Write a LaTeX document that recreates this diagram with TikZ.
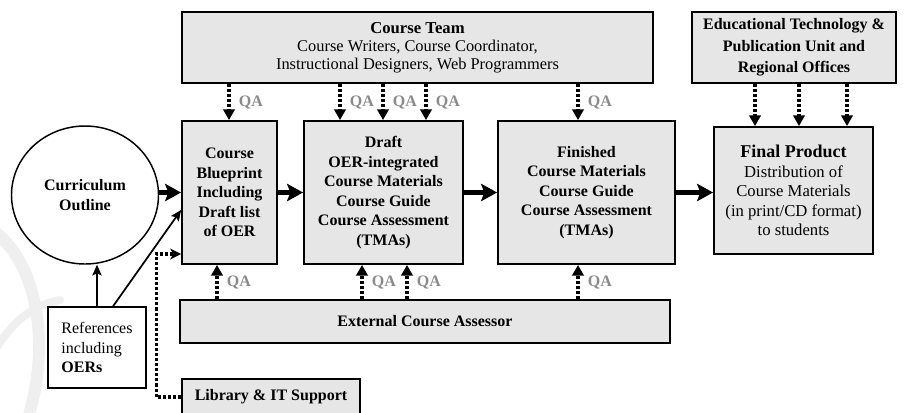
\documentclass[tikz,border=0pt]{standalone}
\usepackage{fontspec}
\setmainfont{Liberation Serif}
\usetikzlibrary{arrows.meta,calc,shapes.geometric}
\definecolor{boxgray}{HTML}{E6E6E6}
\definecolor{qagray}{HTML}{8A8A8A}
\definecolor{wmgray}{HTML}{EFEFEF}
\tikzset{
  box/.style={draw, fill=boxgray, line width=1.4pt, align=center, inner sep=2pt,
    font=\fontsize{12}{14.7}\selectfont\bfseries},
  qa/.style={line width=2.3pt, dash pattern=on 2.3pt off 1.5pt, -{Triangle[width=8.5pt,length=8pt]}},
  qalab/.style={right, xshift=3pt, text=qagray, font=\fontsize{12}{14}\selectfont\bfseries},
  bigarrow/.style={line width=3.8pt, -{Stealth[length=12pt,width=13pt,inset=2.5pt]}},
  thinarrow/.style={line width=1.3pt, -{Stealth[length=8pt,width=7pt,inset=1.5pt]}},
  libline/.style={line width=2.3pt, dash pattern=on 2.3pt off 1.5pt, -{Stealth[length=8pt,width=8pt,inset=2pt]}},
  watermark/.style={draw=wmgray, line width=9pt, line cap=round},
}
\begin{document}
\begin{tikzpicture}[x=0.75pt, y=-0.75pt]
\useasboundingbox (0,0) rectangle (912,412);
% faint watermark
\draw[watermark] (-5,232) .. controls (35,262) and (52,340) .. (28,418);
\draw[watermark, line width=6pt] (-5,350) .. controls (15,318) and (35,305) .. (60,300);
% boxes
\node[box, minimum width=471*0.75pt, minimum height=71*0.75pt, font=\fontsize{12.3}{13.4}\selectfont] (team) at (417.5,47.5)
  {\textbf{\fontsize{12.5}{13.4}\selectfont Course Team}\\ Course Writers, Course Coordinator,\\ Instructional Designers, Web Programmers};
\node[box, minimum width=204*0.75pt, minimum height=71*0.75pt, font=\fontsize{12}{16}\selectfont\bfseries] (edtech) at (794,47.5)
  {Educational Technology \&\\ Publication Unit and\\ Regional Offices};
\node[box, minimum width=95*0.75pt, minimum height=143*0.75pt] (blue) at (229.5,192.5)
  {Course\\ Blueprint\\ Including\\ Draft list\\ of OER};
\node[box, minimum width=159*0.75pt, minimum height=143*0.75pt] (draft) at (383.5,192.5)
  {Draft\\ OER-integrated\\ Course Materials\\ Course Guide\\ Course Assessment\\ (TMAs)};
\node[box, minimum width=177*0.75pt, minimum height=143*0.75pt] (fin) at (586.5,192.5)
  {Finished\\ Course Materials\\ Course Guide\\ Course Assessment\\ (TMAs)};
\node[box, minimum width=159*0.75pt, minimum height=127*0.75pt, font=\fontsize{12.5}{14.7}\selectfont] (final) at (793.5,190.5)
  {\textbf{\fontsize{13.5}{14.7}\selectfont Final Product}\\ Distribution of\\ Course Materials\\ (in print/CD format)\\ to students};
\node[box, minimum width=490*0.75pt, minimum height=43*0.75pt] (ext) at (425,321.5)
  {External Course Assessor};
\node[box, minimum width=178*0.75pt, minimum height=36*0.75pt] (lib) at (271,397)
  {Library \& IT Support};
\node[ellipse, draw, line width=1.1pt, fill=white, minimum width=147*0.75pt, minimum height=138*0.75pt,
  align=center, font=\fontsize{12}{14.7}\selectfont\bfseries] (circ) at (85,195)
  {Curriculum\\ Outline};
\node[draw, fill=white, line width=1pt, minimum width=98*0.75pt, minimum height=81*0.75pt,
  align=left, font=\fontsize{12}{14.7}\selectfont] (ref) at (97,347.5)
  {References\\ including\\ \textbf{OERs}};
% QA from course team
\foreach \x in {229,340,383,426}{
  \draw[qa] (\x,0 |- team.south) -- (\x,0 |- blue.north) node[qalab, midway]{QA};
}
\draw[qa] (578,0 |- team.south) -- (578,0 |- fin.north) node[qalab, midway]{QA};
% ed tech to final
\foreach \x in {755,799,847}{
  \draw[qa] (\x,0 |- edtech.south) -- (\x,0 |- final.north);
}
% QA from external
\foreach \x in {217,362,407,578}{
  \draw[qa] (\x,0 |- ext.north) -- (\x,0 |- blue.south) node[qalab, midway]{QA};
}
% main flow
\draw[bigarrow] (blue.west -| circ.east) -- (blue.west);
\draw[bigarrow] (blue.east) -- (draft.west);
\draw[bigarrow] (draft.east) -- (fin.west);
\draw[bigarrow] (fin.east) -- (fin.east -| final.west);
% references
\draw[thinarrow] (ref.north) -- (ref.north |- circ.south);
\draw[thinarrow] ($(ref.north)+(16,0)$) -- ($(blue.west)+(0,17.5)$);
% library
\draw[libline] (lib.west) -- ++(-25,0) |- ($(blue.west)+(0,61.5)$);
\end{tikzpicture}
\end{document}
